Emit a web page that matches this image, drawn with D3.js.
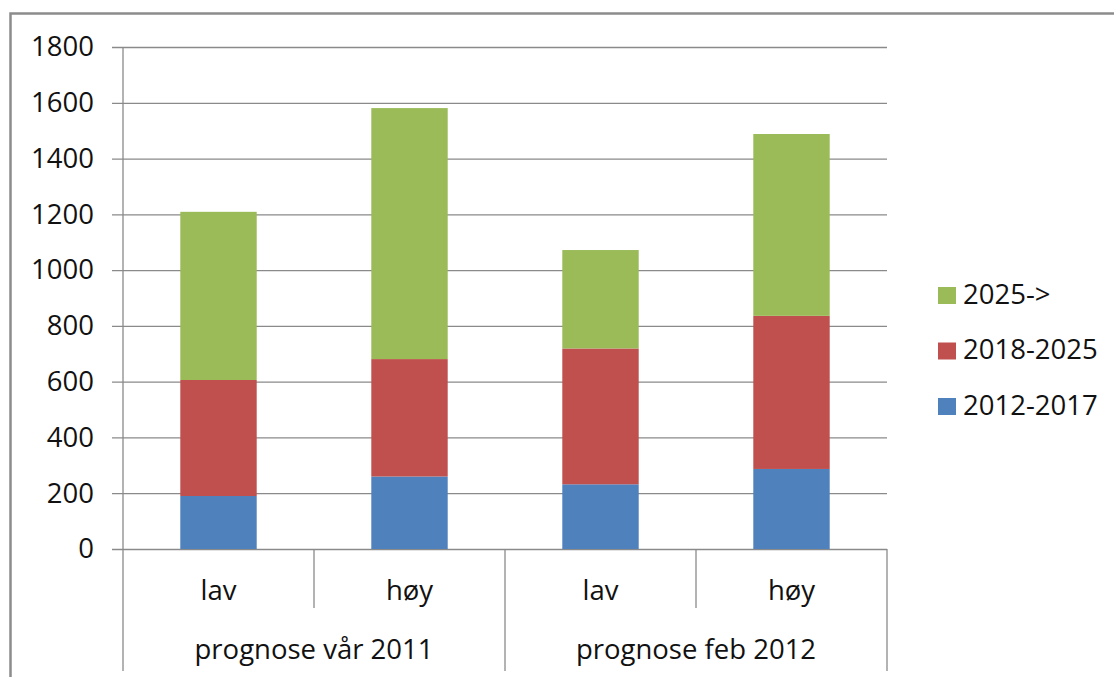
<!DOCTYPE html>
<html>
<head>
<meta charset="utf-8">
<script src="https://cdn.jsdelivr.net/npm/d3@7"></script>
<style>
  html, body { margin: 0; padding: 0; background: #fff; }
  svg { display: block; }
  text { font-family: "Open Sans", "Noto Sans", sans-serif; fill: #111; }
</style>
</head>
<body>
<svg id="chart" width="1114" height="677"></svg>
<script>
// Bars: lav/høy per forecast, stacked by period
const categories = ["lav", "høy", "lav", "høy"];
const groups = ["prognose vår 2011", "prognose feb 2012"];
const seriesNames = ["2012-2017", "2018-2025", "2025->"];
const values2012_2017 = [190, 260, 232, 287];
const values2018_2025 = [416, 421, 487, 549];
const values2025_on   = [603, 900, 353, 652];
const yTicks = [0, 200, 400, 600, 800, 1000, 1200, 1400, 1600, 1800];
const colors = ["#4F81BD", "#C0504D", "#9BBB59"];

const seriesValues = [values2012_2017, values2018_2025, values2025_on];
const rows = categories.map((c, i) => {
  const r = { idx: i };
  seriesNames.forEach((s, k) => { r[s] = seriesValues[k][i]; });
  return r;
});

const svg = d3.select("#chart");
const fontSize = 27.5;
const plotLeft = 123, plotRight = 887, plotTop = 47, plotBottom = 549;

// outer frame
svg.append("rect")
  .attr("x", 10.5).attr("y", 13.5)
  .attr("width", 1130).attr("height", 700)
  .attr("fill", "none").attr("stroke", "#8c8c8c").attr("stroke-width", 2.5);

const x = d3.scaleBand()
  .domain(d3.range(categories.length))
  .range([plotLeft, plotRight])
  .paddingInner(0.6).paddingOuter(0.3);

const y = d3.scaleLinear().domain([0, 1800]).range([plotBottom, plotTop]);

// gridlines + ticks
const yAxis = d3.axisLeft(y).tickValues(yTicks)
  .tickSize(plotRight - plotLeft + 11).tickPadding(18).tickFormat(d3.format("d"));
const gy = svg.append("g").attr("transform", `translate(${plotRight},0)`).call(yAxis);
gy.select(".domain").remove();
gy.selectAll(".tick line").attr("stroke", "#8a8a8a").attr("stroke-width", 1.3);
gy.selectAll(".tick text")
  .attr("font-size", fontSize).attr("fill", "#111")
  .attr("font-family", "'Open Sans', sans-serif");

// stacked bars
const stack = d3.stack().keys(seriesNames)(rows);
svg.append("g").selectAll("g").data(stack).join("g")
  .attr("fill", (d, i) => colors[i])
  .selectAll("rect").data(d => d).join("rect")
  .attr("x", d => x(d.data.idx))
  .attr("width", x.bandwidth())
  .attr("y", d => y(d[1]))
  .attr("height", d => y(d[0]) - y(d[1]));

// y axis line
svg.append("line")
  .attr("x1", plotLeft).attr("x2", plotLeft).attr("y1", plotTop).attr("y2", plotBottom)
  .attr("stroke", "#8a8a8a").attr("stroke-width", 1.3);

// category separators
const step = x.step();
const tiers = svg.append("g").attr("stroke", "#8a8a8a").attr("stroke-width", 1.3);
d3.range(categories.length + 1).forEach(i => {
  const xx = plotLeft + i * step;
  const outer = i % 2 === 0;
  tiers.append("line")
    .attr("x1", xx).attr("x2", xx)
    .attr("y1", plotBottom).attr("y2", outer ? 671 : 608);
});

// category labels
svg.append("g").selectAll("text").data(categories).join("text")
  .attr("x", (d, i) => plotLeft + (i + 0.5) * step)
  .attr("y", 600)
  .attr("text-anchor", "middle")
  .attr("font-size", fontSize)
  .text(d => d);

// group labels
svg.append("g").selectAll("text").data(groups).join("text")
  .attr("x", (d, i) => plotLeft + (i * 2 + 1) * step)
  .attr("y", 659)
  .attr("text-anchor", "middle")
  .attr("font-size", fontSize)
  .text(d => d);

// legend (top item = last series)
const legendItems = seriesNames.map((s, i) => ({ name: s, color: colors[i] })).reverse();
const lg = svg.append("g").selectAll("g").data(legendItems).join("g")
  .attr("transform", (d, i) => `translate(938, ${287 + i * 55.5})`);
lg.append("rect").attr("width", 18).attr("height", 17).attr("fill", d => d.color);
lg.append("text").attr("x", 25).attr("y", 16.5)
  .attr("font-size", fontSize).text(d => d.name);
</script>
</body>
</html>
